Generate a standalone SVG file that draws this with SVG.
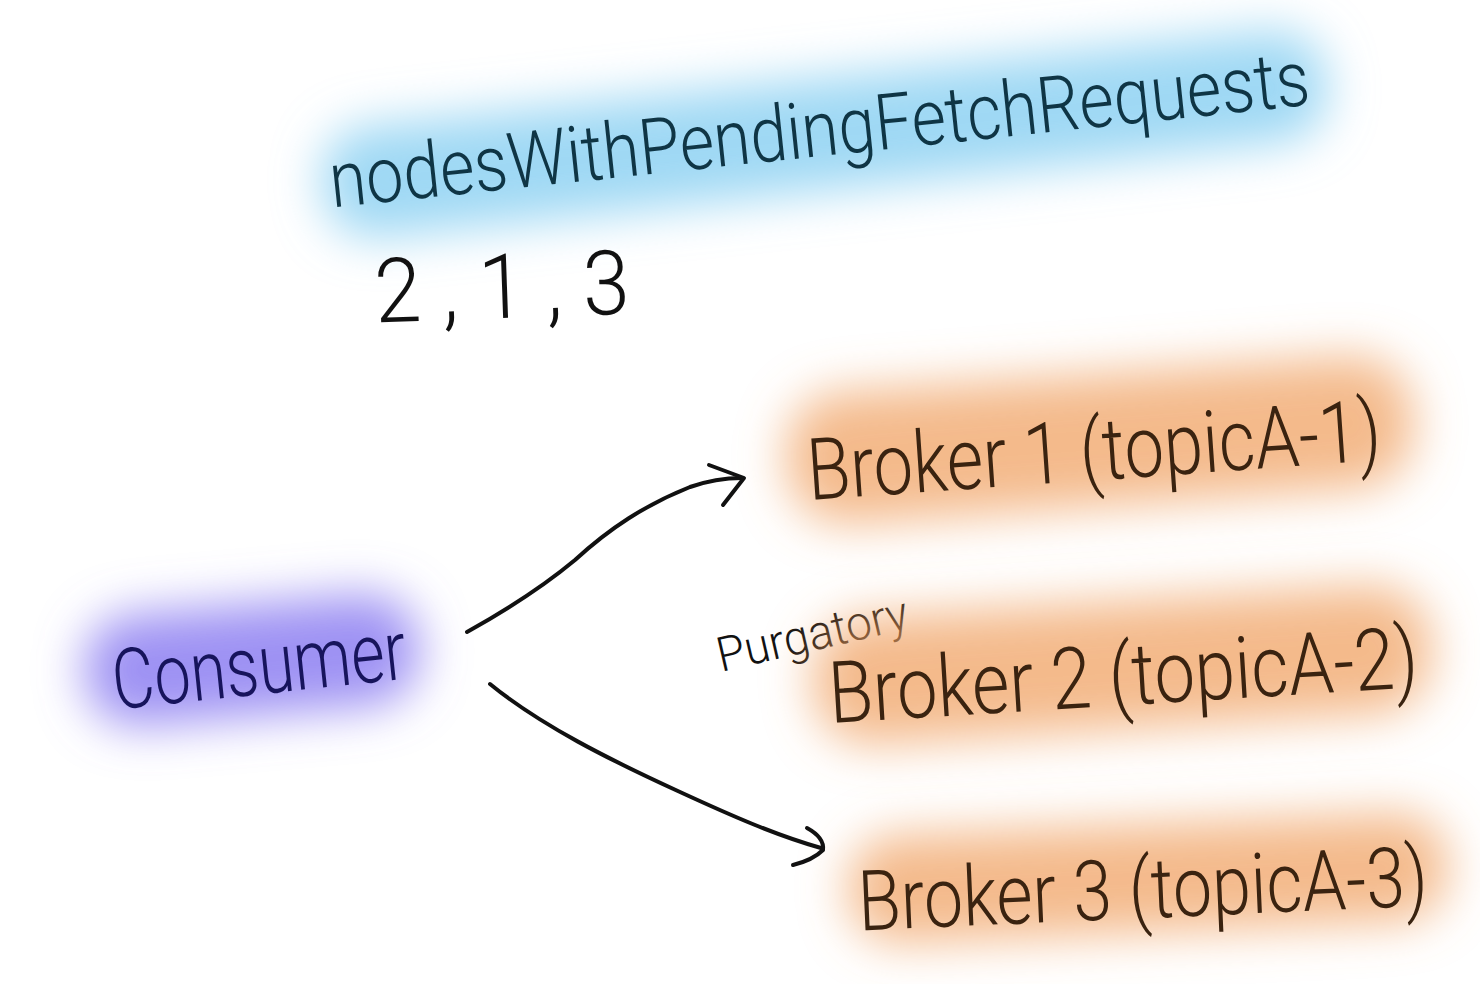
<svg xmlns="http://www.w3.org/2000/svg" width="1480" height="984" viewBox="0 0 1480 984">
  <defs>
    <filter id="blur" x="-30%" y="-90%" width="160%" height="280%">
      <feGaussianBlur stdDeviation="24"/>
    </filter>
    <style>
      .hand { font-family: Roboto, "Liberation Sans", "DejaVu Sans", sans-serif; font-weight: 300; }
      .conn { fill: none; stroke: #111111; stroke-width: 4; stroke-linecap: round; stroke-linejoin: round; }
      .blue { fill: #7fcbf0; opacity: 0.75; }
      .purple { fill: #8676f0; opacity: 0.8; }
      .orange { fill: #f0a060; opacity: 0.72; }
    </style>
  </defs>
  <rect width="1480" height="984" fill="#ffffff"/>

  <g id="title">
    <g filter="url(#blur)">
      <rect class="blue" x="-505" y="-60" width="1010" height="112" rx="50" transform="translate(825 138) rotate(-6)"/>
    </g>
    <text class="hand" x="0" y="0" font-size="78" fill="#0f3545" text-anchor="middle" textLength="985" lengthAdjust="spacingAndGlyphs" transform="translate(822 156) rotate(-6)">nodesWithPendingFetchRequests</text>
  </g>

  <g id="order">
    <text class="hand" x="0" y="0" font-size="90" fill="#111111" text-anchor="middle" textLength="255" lengthAdjust="spacingAndGlyphs" transform="translate(503 318) rotate(-2)">2 , 1 , 3</text>
  </g>

  <g id="consumer">
    <g filter="url(#blur)">
      <rect class="purple" x="-168" y="-56" width="336" height="112" rx="52" transform="translate(252 660) rotate(-5)"/>
    </g>
    <text class="hand" x="0" y="0" font-size="84" fill="#17145c" text-anchor="middle" textLength="295" lengthAdjust="spacingAndGlyphs" transform="translate(262 694) rotate(-6)">Consumer</text>
  </g>

  <g id="broker1">
    <g filter="url(#blur)">
      <rect class="orange" x="-314" y="-66" width="628" height="132" rx="58" transform="translate(1100 440) rotate(-4)"/>
    </g>
    <text class="hand" x="0" y="0" font-size="86" fill="#3a2310" text-anchor="middle" textLength="575" lengthAdjust="spacingAndGlyphs" transform="translate(1096 480) rotate(-4)">Broker 1 (topicA-1)</text>
  </g>

  <g id="purgatory">
    <text class="hand" x="0" y="0" font-size="48" fill="#111111" text-anchor="middle" textLength="195" lengthAdjust="spacingAndGlyphs" transform="translate(816 650) rotate(-13)">Purgatory</text>
  </g>

  <g id="broker2">
    <g filter="url(#blur)">
      <rect class="orange" x="-310" y="-64" width="620" height="128" rx="58" transform="translate(1122 665) rotate(-3.5)"/>
    </g>
    <text class="hand" x="0" y="0" font-size="86" fill="#3a2310" text-anchor="middle" textLength="590" lengthAdjust="spacingAndGlyphs" transform="translate(1125 705) rotate(-3.5)">Broker 2 (topicA-2)</text>
  </g>

  <g id="broker3">
    <g filter="url(#blur)">
      <rect class="orange" x="-300" y="-54" width="600" height="108" rx="50" transform="translate(1148 878) rotate(-2.5)"/>
    </g>
    <text class="hand" x="0" y="0" font-size="84" fill="#3a2310" text-anchor="middle" textLength="570" lengthAdjust="spacingAndGlyphs" transform="translate(1144 918) rotate(-2.5)">Broker 3 (topicA-3)</text>
  </g>

  <g id="connectors">
    <path class="conn" d="M467 632 C510 608 545 585 575 560 C610 528 645 505 690 487 C710 480 725 478 742 478"/>
    <path class="conn" d="M709 465 L744 478 L723 505"/>
    <path class="conn" d="M490 684 C540 725 610 760 680 792 C730 815 775 835 821 848"/>
    <path class="conn" d="M807 828 C818 834 824 842 823 850 C815 858 805 862 793 865"/>
  </g>
</svg>
